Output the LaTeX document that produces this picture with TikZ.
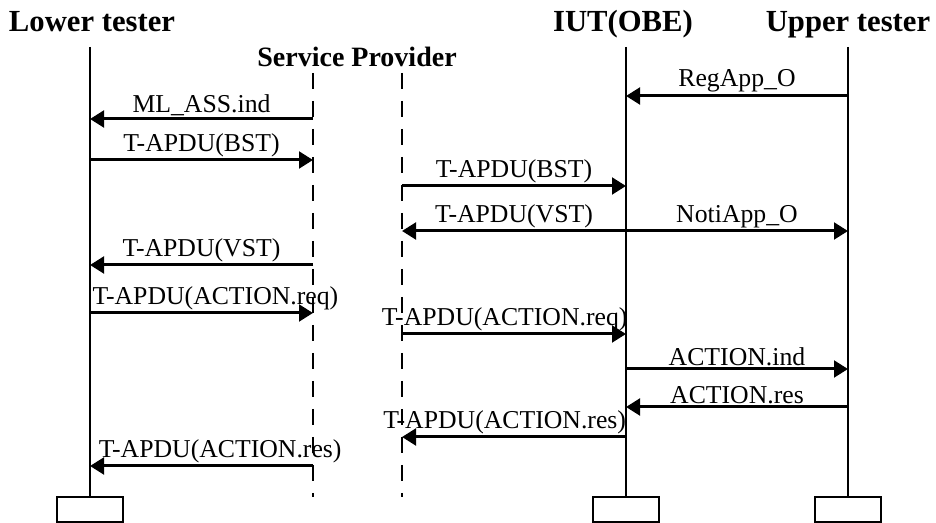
\documentclass[tikz,border=0pt]{standalone}
\usepackage{fontspec}
\setmainfont{Liberation Serif}
\usetikzlibrary{arrows.meta}

\tikzset{every picture/.style={line width=0.75pt}}
\tikzset{
  head/.style={font=\fontsize{23}{26}\selectfont\bfseries, inner sep=0pt, anchor=base},
  msg/.style={line width=2.25pt, -{Triangle[length=10.5pt,width=12.5pt]}},
  lbl/.style={font=\fontsize{19.3}{22}\selectfont, above, inner sep=1.5pt},
  life/.style={line width=1.8pt},
  splife/.style={line width=1.8pt, dash pattern=on 12pt off 9pt},
  endbox/.style={draw, line width=1.6pt, minimum width=50pt, minimum height=18.5pt, inner sep=0pt},
}

\begin{document}
\begin{tikzpicture}[x=0.75pt,y=0.75pt,yscale=-1,xscale=1]
	\useasboundingbox (0,0) rectangle (936,523);
	
	% Text Node
	\node[head] (ltHead) at (92,32) {Lower tester};
	% Text Node
	\node[head, font=\fontsize{21}{24}\selectfont\bfseries] (spHead) at (357,67) {Service Provider};
	% Text Node
	\node[head] (iutHead) at (623,32) {IUT(OBE)};
	% Text Node
	\node[head] (utHead) at (848,32) {Upper tester};
	
	%Lifeline tops
	\coordinate (ltTop) at (90,47);
	\coordinate (spaTop) at (313,73);
	\coordinate (spbTop) at (402,73);
	\coordinate (iutTop) at (626,47);
	\coordinate (utTop) at (848,47);
	
	%Shape: Rectangle
	\node[endbox] (ltBox) at (90,509.5) {};
	\node[endbox] (iutBox) at (626,509.5) {};
	\node[endbox] (utBox) at (848,509.5) {};
	\coordinate (spaEnd) at (313,497);
	\coordinate (spbEnd) at (402,497);
	
	%Lifelines
	\draw[life] (ltTop) -- (ltBox.north);
	\draw[life] (iutTop) -- (iutBox.north);
	\draw[life] (utTop) -- (utBox.north);
	\draw[splife] (spaTop) -- (spaEnd);
	\draw[splife] (spbTop) -- (spbEnd);
	
	%Message rows
	\coordinate (m1) at (0,96);
	\coordinate (m2) at (0,119);
	\coordinate (m3) at (0,160);
	\coordinate (m4) at (0,186);
	\coordinate (m5) at (0,231);
	\coordinate (m6) at (0,265);
	\coordinate (m7) at (0,313);
	\coordinate (m8) at (0,334);
	\coordinate (m9) at (0,369);
	\coordinate (m10) at (0,407);
	\coordinate (m11) at (0,437);
	\coordinate (m12) at (0,466);
	
	%Straight Lines
	\draw[msg] (utTop |- m1) -- (iutTop |- m1) node[lbl, midway] {RegApp\_O};
	\draw[msg] (spaTop |- m2) -- (ltTop |- m2) node[lbl, midway] {ML\_ASS.ind};
	\draw[msg] (ltTop |- m3) -- (spaTop |- m3) node[lbl, midway] {T-APDU(BST)};
	\draw[msg] (spbTop |- m4) -- (iutTop |- m4) node[lbl, midway] {T-APDU(BST)};
	\draw[msg] (iutTop |- m5) -- (spbTop |- m5) node[lbl, midway] {T-APDU(VST)};
	\draw[msg] (iutTop |- m5) -- (utTop |- m5) node[lbl, midway] {NotiApp\_O};
	\draw[msg] (spaTop |- m6) -- (ltTop |- m6) node[lbl, midway] {T-APDU(VST)};
	\draw[msg] (ltTop |- m7) -- (spaTop |- m7) node[lbl, midway, xshift=10.5pt] {T-APDU(ACTION.req)};
	\draw[msg] (spbTop |- m8) -- (iutTop |- m8) node[lbl, midway, xshift=-7pt] {T-APDU(ACTION.req)};
	\draw[msg] (iutTop |- m9) -- (utTop |- m9) node[lbl, midway] {ACTION.ind};
	\draw[msg] (utTop |- m10) -- (iutTop |- m10) node[lbl, midway] {ACTION.res};
	\draw[msg] (iutTop |- m11) -- (spbTop |- m11) node[lbl, midway, xshift=-7pt] {T-APDU(ACTION.res)};
	\draw[msg] (spaTop |- m12) -- (ltTop |- m12) node[lbl, midway, xshift=14pt] {T-APDU(ACTION.res)};
	
\end{tikzpicture}
\end{document}
